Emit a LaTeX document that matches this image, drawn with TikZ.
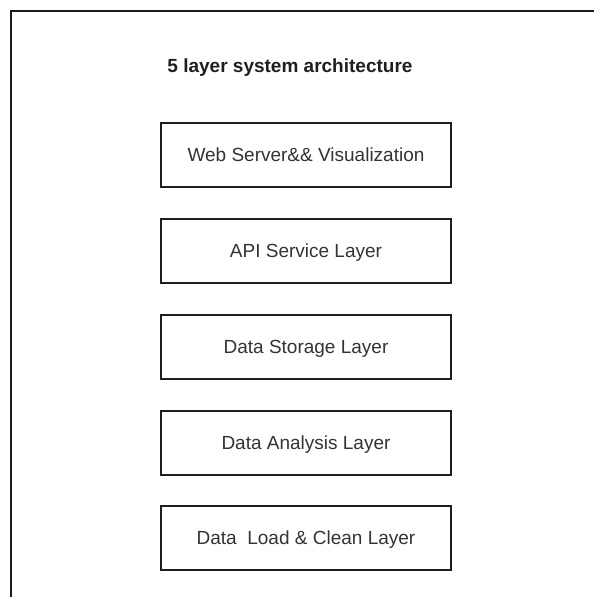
\documentclass[tikz,border=0pt]{standalone}
\usepackage{fontspec}
\setmainfont{Liberation Sans}
\begin{document}
\begin{tikzpicture}[x=1pt,y=-1pt,
  layerbox/.style={draw=black!88, line width=1.3pt, minimum width=290pt, minimum height=64pt,
    inner sep=0pt, text height=12pt, text depth=0pt, text=black!80,
    font=\fontsize{19}{22}\selectfont},
  titletext/.style={anchor=base, inner sep=0pt, text=black!88,
    font=\fontsize{19}{22}\selectfont\bfseries},
  frameline/.style={draw=black!90, line width=1.8pt}]
\useasboundingbox (0,0) rectangle (594,597);
\coordinate (ftop) at (594,11);
\coordinate (fcorner) at (11,11);
\coordinate (fbot) at (11,597);
\draw[frameline] (ftop) -- (fcorner) -- (fbot);
\node[titletext] (title) at (290,72) {5 layer system architecture};
\node[layerbox] (web) at (306,155) {Web Server\&\& Visualization};
\node[layerbox] (api) at (306,251) {API Service Layer};
\node[layerbox] (store) at (306,347) {Data Storage Layer};
\node[layerbox] (anal) at (306,443) {Data Analysis Layer};
\node[layerbox] (load) at (306,538) {Data\ \ Load \& Clean Layer};
\end{tikzpicture}
\end{document}
